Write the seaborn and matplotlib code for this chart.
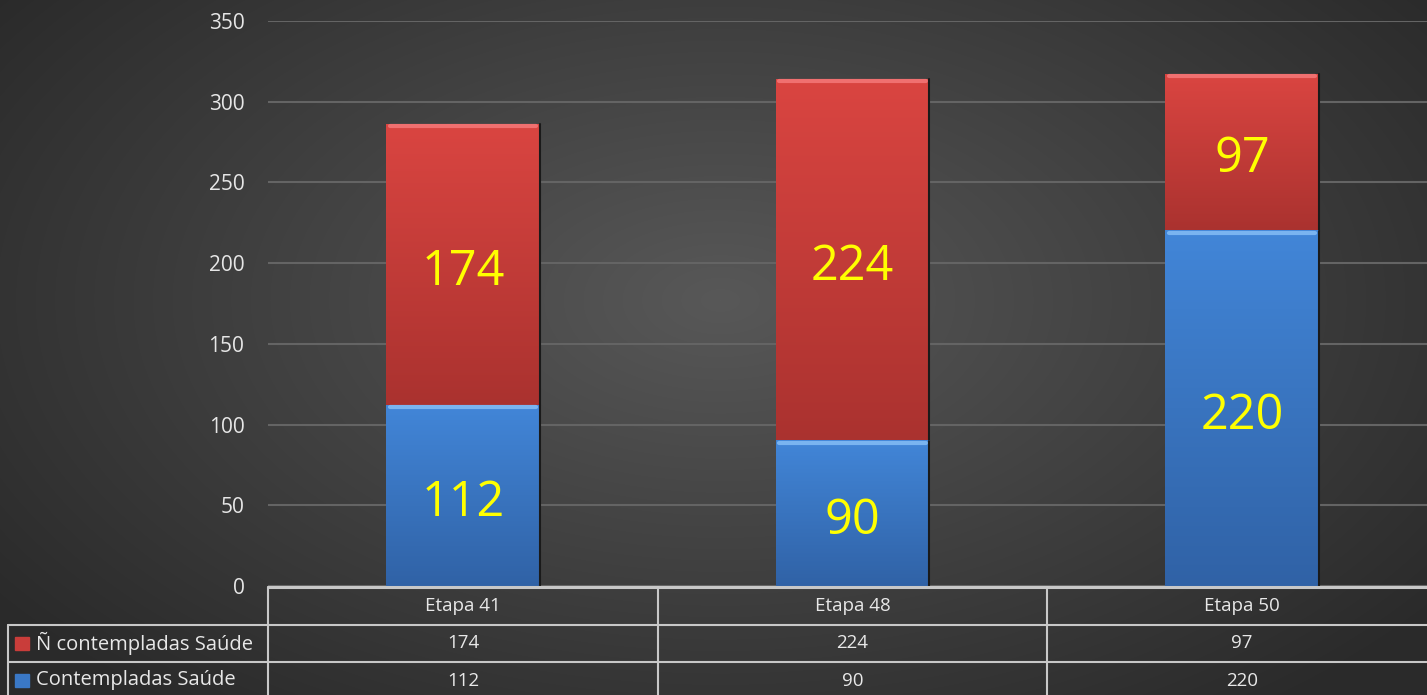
import numpy as np
import pandas as pd
import matplotlib
matplotlib.use("Agg")
import matplotlib.pyplot as plt
import seaborn as sns
from matplotlib.patches import Rectangle
from matplotlib.lines import Line2D

categories = ["Etapa 41", "Etapa 48", "Etapa 50"]
nao_contempladas = [174, 224, 97]
contempladas = [112, 90, 220]
series_names = ["Ñ contempladas Saúde", "Contempladas Saúde"]
yticks = [0, 50, 100, 150, 200, 250, 300, 350]

sns.set_theme(style="dark")
plt.rcParams['font.family'] = ['Open Sans', 'DejaVu Sans']

W, H = 1427, 695
fig = plt.figure(figsize=(W / 100, H / 100), dpi=100)

# background radial gradient
bg = fig.add_axes([0, 0, 1, 1], zorder=-10)
yy, xx = np.mgrid[0:H, 0:W]
r = np.sqrt(((xx - 720) / 900.0) ** 2 + ((yy - 300) / 520.0) ** 2)
r = np.clip(r, 0, 1)
c0 = np.array([0x58, 0x58, 0x58]) / 255
c1 = np.array([0x2a, 0x2a, 0x2a]) / 255
img = c0[None, None, :] * (1 - r[..., None]) + c1[None, None, :] * r[..., None]
bg.imshow(img, aspect="auto", extent=[0, 1, 0, 1], origin="upper")
bg.set_axis_off()

def fx(px):
    return px / W

def fy(py):
    return 1 - py / H

ax_left, ax_right = 268, 1437
ax_top, ax_bot = 21, 586
ax = fig.add_axes([fx(ax_left), fy(ax_bot), fx(ax_right - ax_left), (ax_bot - ax_top) / H])
ax.patch.set_alpha(0)

df = pd.DataFrame({"cat": categories,
                   "total": np.array(nao_contempladas) + np.array(contempladas),
                   "base": contempladas})

red = "#c93d3a"
blue = "#3a78c6"
sns.barplot(data=df, x="cat", y="total", color=red, width=0.395, ax=ax,
            saturation=1, edgecolor="none", zorder=3)
n_red = len(ax.patches)
sns.barplot(data=df, x="cat", y="base", color=blue, width=0.395, ax=ax,
            saturation=1, edgecolor="none", zorder=4)
patches = list(ax.patches)

# gradient fill inside bars
grad = np.linspace(0, 1, 256)[:, None]
for i, p in enumerate(patches):
    x0, y0 = p.get_x(), p.get_y()
    w, h = p.get_width(), p.get_height()
    if i < n_red:
        y0 = contempladas[i]
        h = nao_contempladas[i]
        top_c = np.array([0xda, 0x45, 0x41]) / 255
        bot_c = np.array([0xaa, 0x32, 0x2f]) / 255
    else:
        top_c = np.array([0x42, 0x86, 0xd8]) / 255
        bot_c = np.array([0x30, 0x62, 0xa6]) / 255
    g = top_c[None, None, :] * (1 - grad[..., None]) + bot_c[None, None, :] * grad[..., None]
    g = np.repeat(g, 2, axis=1)
    ax.imshow(g, extent=[x0, x0 + w, y0, y0 + h], aspect="auto", zorder=p.get_zorder() + 0.5)
    hl = "#f07070" if i < n_red else "#7ab4f0"
    ax.add_line(Line2D([x0 + 0.01, x0 + w - 0.01], [y0 + h - 1.2, y0 + h - 1.2], color=hl,
                       lw=3, zorder=p.get_zorder() + 0.8))
    ax.add_line(Line2D([x0 + w, x0 + w], [y0, y0 + h], color="#1a1a1a", lw=1.5,
                       zorder=p.get_zorder() + 0.8))

# value labels
for i in range(len(categories)):
    ax.annotate(str(nao_contempladas[i]), (i, contempladas[i] + nao_contempladas[i] / 2),
                xytext=(0, -7), textcoords="offset pixels",
                ha="center", va="center", color="#ffff00", fontsize=35, zorder=10)
    ax.annotate(str(contempladas[i]), (i, contempladas[i] / 2),
                xytext=(0, -8), textcoords="offset pixels",
                ha="center", va="center", color="#ffff00", fontsize=35, zorder=10)

ax.set_ylim(0, 350)
ax.set_xlim(-0.5, 2.5)
ax.set_yticks(yticks)
ax.set_yticklabels([str(t) for t in yticks], color="#e6e6e6", fontsize=15)
ax.tick_params(axis="y", length=0, pad=17)
ax.set_xticks([])
ax.set_xlabel("")
ax.set_ylabel("")
ax.grid(axis="y", color="#646464", lw=1.5, zorder=0)
ax.grid(axis="x", visible=False)
for s in ax.spines.values():
    s.set_visible(False)

# data table
line_c = "#c8c8c8"
txt_c = "#e8e8e8"
col_x = [268, 658, 1047, 1437]

def hline(x0, x1, y, lw=1.5):
    fig.add_artist(Line2D([fx(x0), fx(x1)], [fy(y), fy(y)], color=line_c, lw=lw))

def vline(x, y0, y1, lw=1.5):
    fig.add_artist(Line2D([fx(x), fx(x)], [fy(y0), fy(y1)], color=line_c, lw=lw))

hline(268, 1427, 587, lw=2.2)
hline(8, 1427, 625)
hline(8, 1427, 662)
for x in col_x[:3]:
    vline(x, 587, 695)
vline(8, 625, 695)

for j, cat in enumerate(categories):
    cx = (col_x[j] + col_x[j + 1]) / 2
    fig.text(fx(cx), fy(606), cat, ha="center", va="center", color=txt_c, fontsize=13.5)
    fig.text(fx(cx), fy(643.5), str(nao_contempladas[j]), ha="center", va="center", color=txt_c, fontsize=13.5)
    fig.text(fx(cx), fy(680.5), str(contempladas[j]), ha="center", va="center", color=txt_c, fontsize=13.5)

key_cols = ["#c93d3a", "#3a78c6"]
for k, (name, yc) in enumerate(zip(series_names, [643.5, 680.5])):
    fig.add_artist(Rectangle((fx(15), fy(yc + 6.5)), fx(14), 13 / H, color=key_cols[k],
                             transform=fig.transFigure))
    fig.text(fx(36), fy(yc), name, ha="left", va="center", color=txt_c, fontsize=14.5)

fig.savefig("out.png", dpi=100)
